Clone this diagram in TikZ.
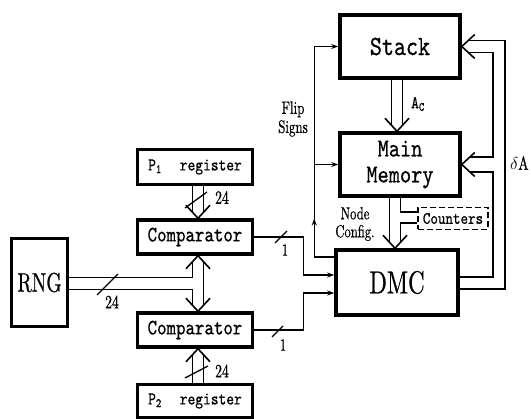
\documentclass[tikz,border=0pt]{standalone}
\usepackage{fontspec}
\usepackage{tikz}
\usetikzlibrary{arrows.meta,positioning,calc,decorations.markings}

\newfontfamily\condrm[FakeStretch=0.72,FakeBold=0.6]{lmroman10-regular.otf}
\newfontfamily\condtt[FakeStretch=0.82,FakeBold=0.6]{lmmono10-regular.otf}

\begin{document}
\begin{tikzpicture}[x=1pt, y=1pt,
  blk/.style={draw, line width=3.5pt, inner sep=0pt, align=center},
  cmp/.style={blk, minimum width=115, minimum height=34,
              font=\condtt\fontsize{22}{22}\selectfont},
  reg/.style={blk, minimum width=115, font=\condtt\fontsize{18}{18}\selectfont},
  wire/.style={line width=1.3pt},
  arr/.style={wire, -{Stealth[length=7pt,width=5pt]}},
  lab/.style={inner sep=0pt, font=\condrm\fontsize{19}{19}\selectfont},
  vhead/.pic={\draw[line width=1.6pt] (-12,13) -- (0,0) -- (12,13);}
]
\useasboundingbox (0,0) rectangle (531,419);

\node[blk, minimum width=120, minimum height=63,
      font=\condtt\fontsize{28}{30}\selectfont] (stack) at (400,372.5) {Stack};
\node[blk, minimum width=120, minimum height=63,
      font=\condtt\fontsize{26}{26}\selectfont] (mem) at (400,254.5) {Main\\Memory};
\node[blk, minimum width=122, minimum height=65,
      font=\condrm\fontsize{32}{34}\selectfont] (dmc) at (397,136.5) {DMC};
\node[draw, dash pattern=on 6pt off 3pt, line width=1.4pt, inner sep=0pt,
      minimum width=70, minimum height=22,
      font=\condtt\fontsize{17.5}{18}\selectfont] (ctr) at (453,200.5) {Counters};
\node[blk, minimum width=56, minimum height=88,
      font=\condrm\fontsize{27}{28}\selectfont] (rng) at (39.5,136.5) {RNG};
\node[cmp] (cmpa) at (195,182) {Comparator};
\node[cmp] (cmpb) at (195,89) {Comparator};
\node[reg, minimum height=35] (pa) at (195,252) {P\textsubscript{1}\hspace{18pt}register};
\node[reg, minimum height=33] (pb) at (195,18) {P\textsubscript{2}\hspace{18pt}register};

% registers and RNG into the comparators
\draw[wire] ([xshift=-2.5]pa.south) -- ([shift={(-2.5,6)}]cmpa.north);
\draw[wire] ([xshift=8.5]pa.south) -- ([shift={(8.5,6)}]cmpa.north);
\pic at ([xshift=3]cmpa.north) {vhead};
\draw[wire] (185,211) -- (207,227);
\node[lab] (n24a) at (222,221.5) {24};

\draw[wire] ([yshift=5]rng.east) -| ([shift={(-2.5,-6)}]cmpa.south);
\draw[wire] ([yshift=-7]rng.east) -| ([shift={(-2.5,6)}]cmpb.north);
\draw[wire] ([shift={(8.5,-6)}]cmpa.south) -- ([shift={(8.5,6)}]cmpb.north);
\pic[rotate=180] at ([xshift=3]cmpa.south) {vhead};
\pic at ([xshift=3]cmpb.north) {vhead};
\draw[wire] (97,124) -- (118,145);
\node[lab] (n24r) at (112,117) {24};

\draw[wire] ([xshift=-2.5]pb.north) -- ([shift={(-2.5,-6)}]cmpb.south);
\draw[wire] ([xshift=8.5]pb.north) -- ([shift={(8.5,-6)}]cmpb.south);
\pic[rotate=180] at ([xshift=3]cmpb.south) {vhead};
\draw[wire] (185,41) -- (208,53);
\node[lab] (n24b) at (222,48) {24};

% comparator outputs
\draw[arr] (cmpa.east) -- ++(49,0) |- ([yshift=7.5]dmc.west);
\draw[arr] (cmpb.east) -- ++(49,0) |- ([yshift=-10.5]dmc.west);
\draw[wire] (275,176) -- (287,188);
\node[lab, font=\condrm\fontsize{17}{17}\selectfont] (n1a) at (285,169) {1};
\draw[wire] (272,82) -- (283,93);
\node[lab, font=\condrm\fontsize{17}{17}\selectfont] (n1b) at (283,74) {1};

% flip signs
\coordinate (fx) at ([xshift=-20]dmc.west);
\draw[arr, postaction={decorate}, decoration={markings,
      mark=at position 0.23 with {\arrow{Stealth[length=7pt,width=5pt]}}}]
  ([yshift=25.5]dmc.west) -| (fx |- stack.west) -- (stack.west);
\draw[arr] (fx |- mem.west) -- (mem.west);
\node[inner sep=0pt, align=center, font=\condrm\fontsize{18}{19}\selectfont] (flip) at (293,300) {Flip\\Signs};

% stack to memory
\draw[wire] ([xshift=-8.5]stack.south) -- ([shift={(-8.5,6)}]mem.north);
\draw[wire] ([xshift=2.5]stack.south) -- ([shift={(2.5,6)}]mem.north);
\pic at ([xshift=-3]mem.north) {vhead};
\node[inner sep=0pt, font=\condtt\fontsize{18}{18}\selectfont] (ac) at (418,315) {A\textsubscript{C}};

% memory to DMC through the counters
\draw[wire] ([xshift=-10.5]mem.south) -- ([shift={(-7.5,6)}]dmc.north);
\draw[wire] ([xshift=0.5]mem.south) |- ([yshift=6.5]ctr.west);
\draw[wire] ([yshift=-4.5]ctr.west) -| ([shift={(3.5,6)}]dmc.north);
\pic at ([xshift=-2]dmc.north) {vhead};
\node[inner sep=0pt, align=center, font=\condrm\fontsize{17.5}{18}\selectfont] (cfg) at (355,195) {Node\\Config.};

% feedback to stack and memory
\draw[wire] ([yshift=5.5]dmc.east) -- ++(33.25,0) |- ([shift={(8,-7.5)}]mem.east);
\draw[wire] ([shift={(8,7.5)}]mem.east) -- ++(23.25,0) |- ([shift={(6.5,-6)}]stack.east);
\draw[wire] ([yshift=-6.5]dmc.east) -- ++(45.25,0) |- ([shift={(6.5,6)}]stack.east);
\pic[rotate=-90] at (stack.east) {vhead};
\pic[rotate=-90] at (mem.east) {vhead};
\node[inner sep=0pt, anchor=west, font=\condrm\fontsize{19}{19}\selectfont] (da) at (510,256) {$\delta$A};
\end{tikzpicture}
\end{document}
